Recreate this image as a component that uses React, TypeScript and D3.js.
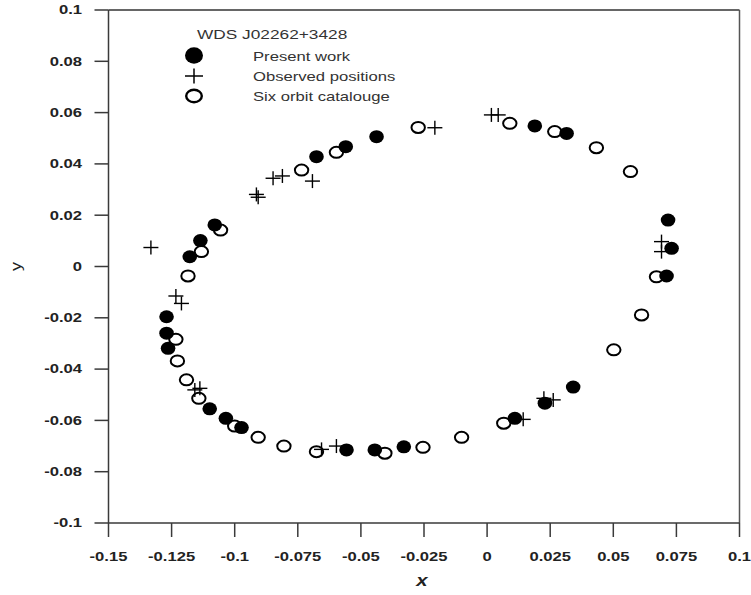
import React from "react";
import * as d3 from "d3";

const presentX = [-0.0438, -0.0560, -0.0676, -0.1079, -0.1136, -0.1178, -0.1270, -0.1270, -0.1264, -0.1099, -0.1035, -0.0973, -0.0557, -0.0445, -0.0330, 0.0110, 0.0229, 0.0341, 0.0711, 0.0731, 0.0717, 0.0315, 0.0189];
const presentY = [0.0506, 0.0467, 0.0428, 0.0162, 0.0101, 0.0038, -0.0196, -0.0260, -0.0319, -0.0555, -0.0592, -0.0628, -0.0715, -0.0715, -0.0703, -0.0592, -0.0533, -0.0470, -0.0037, 0.0071, 0.0181, 0.0519, 0.0548];

const observedX = [-0.0207, -0.0692, -0.0848, -0.0811, -0.0914, -0.0907, -0.1332, -0.1233, -0.1211, -0.1158, -0.1138, -0.0656, -0.0597, 0.0143, 0.0225, 0.0262, 0.0691, 0.0691, 0.0017, 0.0044];
const observedY = [0.0541, 0.0333, 0.0344, 0.0353, 0.0281, 0.0270, 0.0074, -0.0115, -0.0144, -0.0481, -0.0475, -0.0713, -0.0700, -0.0596, -0.0514, -0.0520, 0.0097, 0.0058, 0.0591, 0.0591];

const catalogueX = [-0.0273, -0.0597, -0.0735, -0.1056, -0.1132, -0.1185, -0.1233, -0.1227, -0.1191, -0.1142, -0.1000, -0.0907, -0.0805, -0.0676, -0.0405, -0.0254, -0.0101, 0.0066, 0.0502, 0.0612, 0.0671, 0.0568, 0.0433, 0.0268, 0.0090];
const catalogueY = [0.0542, 0.0445, 0.0376, 0.0142, 0.0058, -0.0037, -0.0284, -0.0368, -0.0442, -0.0514, -0.0622, -0.0666, -0.0700, -0.0722, -0.0728, -0.0705, -0.0666, -0.0611, -0.0325, -0.0189, -0.0040, 0.0370, 0.0463, 0.0526, 0.0558];

const xTicks = [-0.15, -0.125, -0.1, -0.075, -0.05, -0.025, 0, 0.025, 0.05, 0.075, 0.1];
const xTickLabels = ["-0.15", "-0.125", "-0.1", "-0.075", "-0.05", "-0.025", "0", "0.025", "0.05", "0.075", "0.1"];
const yTicks = [0.1, 0.08, 0.06, 0.04, 0.02, 0, -0.02, -0.04, -0.06, -0.08, -0.1];
const yTickLabels = ["0.1", "0.08", "0.06", "0.04", "0.02", "0", "-0.02", "-0.04", "-0.06", "-0.08", "-0.1"];

const legendTitle = "WDS J02262+3428";
const legendLabels = ["Present work", "Observed positions", "Six orbit catalouge"];

const W = 751;
const H = 595;
const left = 108.5;
const right = 739.5;
const top = 10;
const bottom = 523;
const stretch = 1.33;

export default function App() {
  const x = d3.scaleLinear().domain([-0.15, 0.1]).range([left, right]);
  const y = d3.scaleLinear().domain([-0.1, 0.1]).range([bottom, top]);
  const axisColor = "#3a3a3a";
  const font = "Liberation Sans, Arial, sans-serif";

  const plus = (cx: number, cy: number, k: string) => (
    <g key={k} stroke="#000" strokeWidth={1.4}>
      <line x1={cx - 7.5} x2={cx + 7.5} y1={cy} y2={cy} />
      <line x1={cx} x2={cx} y1={cy - 7} y2={cy + 7} />
    </g>
  );

  return (
    <svg width={W} height={H} style={{ position: "absolute", left: 0, top: 0, background: "#fff" }} fontFamily={font}>
      <rect x={0} y={0} width={W} height={H} fill="#fff" />
      {/* frame */}
      <line x1={left} x2={right} y1={top} y2={top} stroke="#666" strokeWidth={2} />
      <line x1={right} x2={right} y1={top} y2={bottom} stroke="#555" strokeWidth={1.5} />
      <line x1={left} x2={left} y1={top} y2={bottom} stroke={axisColor} strokeWidth={1.5} />
      <line x1={left} x2={right} y1={bottom} y2={bottom} stroke={axisColor} strokeWidth={1.5} />
      {/* y ticks */}
      {yTicks.map((t, i) => (
        <g key={"yt" + i}>
          <line x1={left - 14} x2={left} y1={y(t)} y2={y(t)} stroke={axisColor} strokeWidth={1.5} />
          <text transform={`translate(82,${y(t)}) scale(${stretch},1)`} dy="0.35em" textAnchor="end" fontSize={12.5} fontWeight="bold" fill="#222">
            {yTickLabels[i]}
          </text>
        </g>
      ))}
      {/* x ticks */}
      {xTicks.map((t, i) => (
        <g key={"xt" + i}>
          <line x1={x(t)} x2={x(t)} y1={bottom} y2={bottom + 14} stroke={axisColor} strokeWidth={1.5} />
          <text transform={`translate(${x(t)},560.5) scale(${stretch},1)`} textAnchor="middle" fontSize={12.5} fontWeight="bold" fill="#222">
            {xTickLabels[i]}
          </text>
        </g>
      ))}
      <text transform={`translate(422,586) scale(1.2,1)`} textAnchor="middle" fontSize={17} fontWeight="bold" fontStyle="italic" fill="#222">x</text>
      <text transform={`translate(21,${y(0)}) rotate(-90) scale(1.2,1)`} textAnchor="middle" fontSize={15} fill="#222">y</text>

      {/* catalogue (open) */}
      {catalogueX.map((v, i) => (
        <ellipse key={"c" + i} cx={x(v)} cy={y(catalogueY[i])} rx={6.7} ry={5.5} fill="#fff" stroke="#000" strokeWidth={2} />
      ))}
      {/* present work (filled) */}
      {presentX.map((v, i) => (
        <ellipse key={"p" + i} cx={x(v)} cy={y(presentY[i])} rx={7.3} ry={6.5} fill="#000" />
      ))}
      {/* observed (plus) */}
      {observedX.map((v, i) => plus(x(v), y(observedY[i]), "o" + i))}

      {/* legend */}
      <text transform={`translate(197,39) scale(${stretch},1)`} fontSize={13} fill="#333">{legendTitle}</text>
      <ellipse cx={194} cy={55.5} rx={9} ry={8.2} fill="#000" />
      <g stroke="#000" strokeWidth={1.5}>
        <line x1={185} x2={203} y1={76} y2={76} />
        <line x1={194} x2={194} y1={68.5} y2={83.5} />
      </g>
      <ellipse cx={194} cy={96} rx={7.8} ry={6.2} fill="#fff" stroke="#000" strokeWidth={2.4} />
      {legendLabels.map((l, i) => (
        <text key={"l" + i} transform={`translate(253,${60.5 + i * 20.3}) scale(1.28,1)`} fontSize={13} fill="#333">{l}</text>
      ))}
    </svg>
  );
}
